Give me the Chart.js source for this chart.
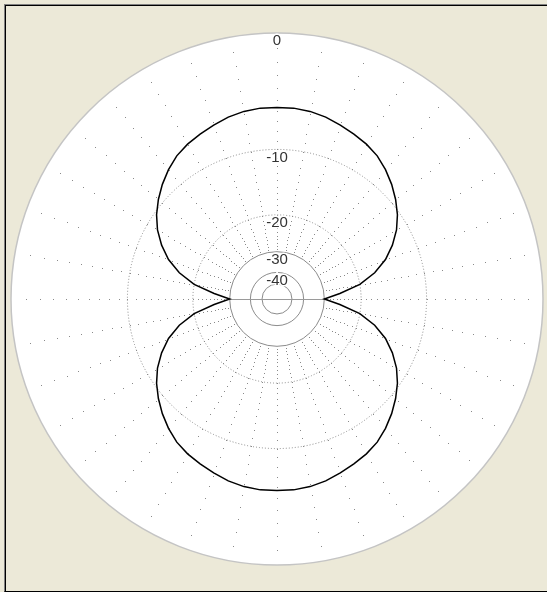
<!DOCTYPE html>
<html>
<head>
<meta charset="utf-8">
<script src="https://cdn.jsdelivr.net/npm/chart.js@4.4.1/dist/chart.umd.min.js"></script>
<style>
  html, body { margin: 0; padding: 0; }
  body { width: 547px; height: 592px; background: #ece9d8; position: relative; overflow: hidden; }
  #frame {
    position: absolute; left: 4px; top: 4px; right: 0; bottom: 0;
    border-left: 1px solid #808080; border-top: 1px solid #808080; border-bottom: 1px solid #000;
    box-shadow: inset 1px 1px 0 #000;
  }
  #polar { position: absolute; left: 4px; top: 26px; }
</style>
</head>
<body>
<div id="frame"></div>
<canvas id="polar" width="547" height="547"></canvas>
<script>
// angle of each sample, degrees clockwise from the top
const angles = [0, 5, 10, 15, 20, 25, 30, 35, 40, 45, 50, 55, 60, 65, 70, 75, 80, 85,
  90, 95, 100, 105, 110, 115, 120, 125, 130, 135, 140, 145, 150, 155, 160, 165, 170, 175,
  180, 185, 190, 195, 200, 205, 210, 215, 220, 225, 230, 235, 240, 245, 250, 255, 260, 265,
  270, 275, 280, 285, 290, 295, 300, 305, 310, 315, 320, 325, 330, 335, 340, 345, 350, 355];

// pattern level in dB
const patternDb = [-5.7, -5.7, -5.8, -6.0, -6.3, -6.6, -6.9, -7.3, -7.9, -8.6, -9.4, -10.3, -11.4, -12.8, -14.5, -16.8, -20.0, -25.0,
  -30.0, -25.0, -20.0, -16.8, -14.5, -12.8, -11.4, -10.3, -9.4, -8.6, -7.9, -7.3, -6.9, -6.6, -6.3, -6.0, -5.8, -5.7,
  -5.7, -5.7, -5.8, -6.0, -6.3, -6.6, -6.9, -7.3, -7.9, -8.6, -9.4, -10.3, -11.4, -12.8, -14.5, -16.8, -20.0, -25.0,
  -30.0, -25.0, -20.0, -16.8, -14.5, -12.8, -11.4, -10.3, -9.4, -8.6, -7.9, -7.3, -6.9, -6.6, -6.3, -6.0, -5.8, -5.7];

// rings of the dB scale
const dbMin = -50;
const dbMax = 0;
const dbStep = 10;
const dottedRings = [-10, -20];

// radial spokes every 10 degrees, dotted once per dB down to -30
const spokeStep = 10;
const spokeFloor = -30;

// radius goes as 10^(dB/40), so every 10 dB shrinks the ring by the same factor
class DbRadialScale extends Chart.RadialLinearScale {
  static id = 'dbRadial';
  getDistanceFromCenterForValue(value) {
    if (value === null || value === undefined || isNaN(value)) return NaN;
    return this.drawingArea * Math.pow(10, (value - this.max) / 40);
  }
}
Chart.register(DbRadialScale);

const spokeDots = {
  id: 'spokeDots',
  beforeDatasetsDraw(chart) {
    const scale = chart.scales.r;
    const ctx = chart.ctx;
    ctx.save();
    ctx.fillStyle = '#8a8a8a';
    angles.forEach((a, i) => {
      if (a % spokeStep !== 0) return;
      for (let db = -1; db > spokeFloor; db--) {
        const p = scale.getPointPositionForValue(i, db);
        ctx.fillRect(Math.round(p.x), Math.round(p.y), 1, 1);
      }
    });
    // solid axis through the centre, out to the -30 ring
    const left = scale.getPointPositionForValue(angles.indexOf(270), spokeFloor);
    const right = scale.getPointPositionForValue(angles.indexOf(90), spokeFloor);
    ctx.strokeStyle = '#9a9a9a';
    ctx.lineWidth = 1;
    ctx.beginPath();
    ctx.moveTo(left.x, Math.round(left.y) + 0.5);
    ctx.lineTo(right.x, Math.round(right.y) + 0.5);
    ctx.stroke();
    ctx.restore();
  }
};

let ctx = document.getElementById('polar').getContext('2d');
var polarChart = new Chart(ctx, {
  type: 'radar',
  data: {
    labels: angles,
    datasets: [
      {
        data: patternDb,
        borderColor: '#000',
        borderWidth: 1.5,
        fill: false,
        pointRadius: 0,
        tension: 0
      }]
  },
  options: {
    responsive: false,
    animation: false,
    layout: { padding: 0 },
    plugins: {
      legend: { display: false },
      tooltip: { enabled: false }
    },
    scales: {
      r: {
        type: 'dbRadial',
        min: dbMin,
        max: dbMax,
        backgroundColor: '#ffffff',
        angleLines: { display: false },
        pointLabels: { display: false },
        grid: {
          circular: true,
          color: c => c.tick && c.tick.value === dbMax ? '#c4c4c4' : '#8c8c8c',
          lineWidth: c => c.tick && c.tick.value === dbMax ? 1.5 : 1
        },
        border: {
          dash: c => c.tick && dottedRings.includes(c.tick.value) ? [1, 2] : []
        },
        ticks: {
          stepSize: dbStep,
          z: 1,
          color: '#333',
          showLabelBackdrop: false,
          backdropPadding: 0,
          textStrokeColor: '#ffffff',
          textStrokeWidth: 3,
          font: { family: '"Liberation Sans Narrow", "Liberation Sans", Arial, sans-serif', size: 15, lineHeight: '8px' },
          // empty first line pushes the number just under its ring
          callback: v => v === dbMin ? '' : ['', String(v)]
        }
      }
    }
  },
  plugins: [spokeDots]
});
</script>
</body>
</html>
